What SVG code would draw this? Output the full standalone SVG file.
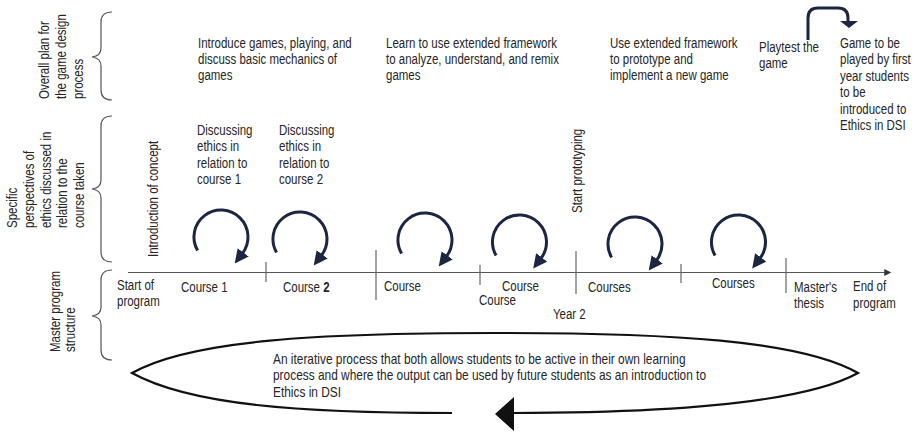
<svg xmlns="http://www.w3.org/2000/svg" width="917" height="433" viewBox="0 0 917 433">
<style>
text{font-family:"Liberation Sans Narrow","Liberation Sans",Arial,sans-serif;font-size:14px;fill:#262626}
.brace{fill:none;stroke:#555;stroke-width:1.2}
.tick{stroke:#666;stroke-width:1.2}
.loop{fill:none;stroke:#1b2643;stroke-width:3}
.axis{stroke:#555;stroke-width:1.2;fill:none}
</style>
<defs>
<marker id="loopHead" markerUnits="userSpaceOnUse" viewBox="0 0 12 12" refX="1" refY="6" markerWidth="14" markerHeight="14" orient="auto">
<path d="M0,0 L12,6 L0,12 z" fill="#1b2643"/>
</marker>
<marker id="axisHead" markerUnits="userSpaceOnUse" viewBox="0 0 8 8" refX="2" refY="4" markerWidth="8" markerHeight="7" orient="auto">
<path d="M0,0 L8,4 L0,8 z" fill="#333"/>
</marker>
<path id="loopShape" d="M-23.4,13.5 A27,27 0 1 1 21.5,16.3"/>
</defs>

<g id="row-labels">
<text transform="translate(0,99) rotate(-90) scale(0.82,1)"><tspan x="0" y="49">Overall plan for</tspan><tspan x="0" y="66">the game design</tspan><tspan x="0" y="83">process</tspan></text>
<text transform="translate(0,228) rotate(-90) scale(0.82,1)"><tspan x="0" y="17.5">Specific</tspan><tspan x="0" y="34.5">perspectives of</tspan><tspan x="0" y="51">ethics discussed in</tspan><tspan x="0" y="67.5">relation to the</tspan><tspan x="0" y="84">course taken</tspan></text>
<text transform="translate(0,352) rotate(-90) scale(0.82,1)"><tspan x="0" y="60">Master program</tspan><tspan x="0" y="75">structure</tspan></text>
</g>

<g id="braces">
<path class="brace" d="M112,12 Q101,12 101,22 L101,48 Q101,56 92,57 Q101,58 101,66 L101,90 Q101,100 112,100"/>
<path class="brace" d="M112,116 Q101,116 101,126 L101,180 Q101,188 92,189 Q101,190 101,198 L101,252 Q101,262 112,262"/>
<path class="brace" d="M112,270 Q101,270 101,280 L101,307 Q101,315 92,316 Q101,317 101,325 L101,350 Q101,360 112,360"/>
</g>

<g id="plan-texts">
<text transform="translate(198,48) scale(0.82,1)"><tspan x="0" y="0">Introduce games, playing, and</tspan><tspan x="0" y="16">discuss basic mechanics of</tspan><tspan x="0" y="32">games</tspan></text>
<text transform="translate(386,48) scale(0.82,1)"><tspan x="0" y="0">Learn to use extended framework</tspan><tspan x="0" y="16">to analyze, understand, and remix</tspan><tspan x="0" y="32">games</tspan></text>
<text transform="translate(610,48) scale(0.82,1)"><tspan x="0" y="0">Use extended framework</tspan><tspan x="0" y="16">to prototype and</tspan><tspan x="0" y="32">implement a new game</tspan></text>
<g id="playtest"><text transform="translate(759,52) scale(0.82,1)"><tspan x="0" y="0">Playtest the</tspan><tspan x="0" y="16">game</tspan></text></g>
<g id="game-played"><text transform="translate(840,48) scale(0.82,1)"><tspan x="0" y="0">Game to be</tspan><tspan x="0" y="16.5">played by first</tspan><tspan x="0" y="33">year students</tspan><tspan x="0" y="49.5">to be</tspan><tspan x="0" y="66">introduced to</tspan><tspan x="0" y="82.5">Ethics in DSI</tspan></text></g>
</g>

<g id="ethics-texts">
<text transform="translate(197,135) scale(0.82,1)"><tspan x="0" y="0">Discussing</tspan><tspan x="0" y="16">ethics in</tspan><tspan x="0" y="33">relation to</tspan><tspan x="0" y="49">course 1</tspan></text>
<text transform="translate(279,135) scale(0.82,1)"><tspan x="0" y="0">Discussing</tspan><tspan x="0" y="16">ethics in</tspan><tspan x="0" y="33">relation to</tspan><tspan x="0" y="49">course 2</tspan></text>
<text transform="translate(158,257) rotate(-90) scale(0.82,1)">Introduction of concept</text>
<text transform="translate(582,213) rotate(-90) scale(0.82,1)">Start prototyping</text>
</g>

<g id="loops">
<use href="#loopShape" class="loop" marker-end="url(#loopHead)" transform="translate(221,237)"/>
<use href="#loopShape" class="loop" marker-end="url(#loopHead)" transform="translate(300,239)"/>
<use href="#loopShape" class="loop" marker-end="url(#loopHead)" transform="translate(425,240)"/>
<use href="#loopShape" class="loop" marker-end="url(#loopHead)" transform="translate(519.5,242)"/>
<use href="#loopShape" class="loop" marker-end="url(#loopHead)" transform="translate(635,244)"/>
<use href="#loopShape" class="loop" marker-end="url(#loopHead)" transform="translate(738.5,242)"/>
</g>

<g id="connectors">
<path class="loop" d="M808,40 L808,18 Q808,8 818,8 L838,8 Q848,8 848,18 L848,22" stroke-width="2.5"/>
<path d="M840,21 L858,21 L849,28 z" fill="#1b2643"/>
<line class="axis" x1="128" y1="272.5" x2="886" y2="272.5" marker-end="url(#axisHead)"/>
<line class="tick" x1="266" y1="262" x2="266" y2="282"/>
<line class="tick" x1="376" y1="250" x2="376" y2="300"/>
<line class="tick" x1="480" y1="265" x2="480" y2="285"/>
<line class="tick" x1="576" y1="251" x2="576" y2="294"/>
<line class="tick" x1="681" y1="264" x2="681" y2="283"/>
<line class="tick" x1="786" y1="258" x2="786" y2="293"/>
<path d="M452,413 C300,413 190,405 132,373 C190,340 320,333 495,333 C670,333 800,340 858,373 C800,405 660,413 513,413" fill="none" stroke="#111" stroke-width="2.2"/>
<path d="M495,414 L514,397 L514,431 z" fill="#111"/>
</g>

<g id="timeline-labels">
<text transform="translate(117,290) scale(0.82,1)"><tspan x="0" y="0">Start of</tspan><tspan x="0" y="16">program</tspan></text>
<text transform="translate(181,292) scale(0.82,1)">Course 1</text>
<text transform="translate(283,292) scale(0.82,1)">Course <tspan font-weight="bold">2</tspan></text>
<text transform="translate(384,291) scale(0.82,1)">Course</text>
<text transform="translate(502,291) scale(0.82,1)">Course</text>
<text transform="translate(479,305) scale(0.82,1)">Course</text>
<text transform="translate(553,319) scale(0.82,1)">Year 2</text>
<text transform="translate(588,292) scale(0.82,1)">Courses</text>
<text transform="translate(712,288) scale(0.82,1)">Courses</text>
<text transform="translate(794,292) scale(0.82,1)"><tspan x="0" y="0">Master's</tspan><tspan x="0" y="16">thesis</tspan></text>
<text transform="translate(853,291) scale(0.82,1)"><tspan x="0" y="0">End of</tspan><tspan x="0" y="17">program</tspan></text>
</g>

<g id="iterative-process">
<text transform="translate(273,364) scale(0.85,1)"><tspan x="0" y="0">An iterative process that both allows students to be active in their own learning</tspan><tspan x="0" y="16">process and where the output can be used by future students as an introduction to</tspan><tspan x="0" y="33">Ethics in DSI</tspan></text>
</g>
</svg>
